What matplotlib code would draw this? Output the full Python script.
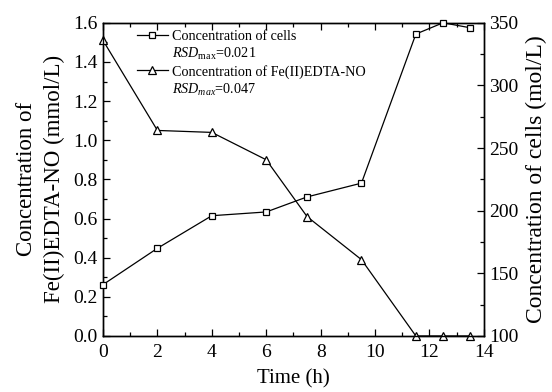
import matplotlib
matplotlib.use("Agg")
import matplotlib.pyplot as plt
from matplotlib.lines import Line2D

plt.rcParams['font.family'] = ['Liberation Serif', 'DejaVu Serif']
plt.rcParams['mathtext.fontset'] = 'custom'
plt.rcParams['mathtext.rm'] = 'Liberation Serif'
plt.rcParams['mathtext.it'] = 'Liberation Serif:italic'

# data
time_h = [0, 2, 4, 6, 7.5, 9.5, 11.5, 12.5, 13.5]
fe_edta_no = [1.51, 1.05, 1.04, 0.90, 0.61, 0.39, 0.0, 0.0, 0.0]      # mmol/L, left axis
cells = [141, 170, 196, 199, 211, 222, 341, 350, 346]               # mol/L, right axis

left_ticks = [0.0, 0.2, 0.4, 0.6, 0.8, 1.0, 1.2, 1.4, 1.6]
right_ticks = [100, 150, 200, 250, 300, 350]
x_ticks = [0, 2, 4, 6, 8, 10, 12, 14]

fig = plt.figure(figsize=(5.52, 3.92), dpi=100)
ax = fig.add_axes([0.1866, 0.1429, 0.690, 0.799])
ax2 = ax.twinx()

line_kw = dict(color='black', lw=0.9, markerfacecolor='white', markeredgecolor='black',
               markeredgewidth=0.9, clip_on=False)
ax.plot(time_h, fe_edta_no, marker='^', markersize=6, zorder=3, **line_kw)
ax2.plot(time_h, cells, marker='s', markersize=4.6, zorder=3, **line_kw)

ax.set_xlim(0, 14)
ax.set_ylim(0, 1.6)
ax2.set_ylim(100, 350)
ax.set_xticks(x_ticks)
ax.set_xticks([1, 3, 5, 7, 9, 11, 13], minor=True)
ax.set_yticks(left_ticks)
ax.set_yticklabels([f"{v:.1f}" for v in left_ticks])
ax.set_yticks([0.1 + 0.2 * i for i in range(8)], minor=True)
ax2.set_yticks(right_ticks)
ax2.set_yticks([125, 175, 225, 275, 325], minor=True)

for a in (ax, ax2):
    a.tick_params(which='both', direction='in', labelsize=14, width=0.9)
    a.tick_params(which='major', length=5)
    a.tick_params(which='minor', length=3)
    for s in a.spines.values():
        s.set_linewidth(1.0)
ax.tick_params(which='both', top=True)
ax.tick_params(axis='x', pad=6)
ax.tick_params(axis='y', pad=4)
ax2.tick_params(which='both', top=False, pad=4)

ax.set_xlabel('Time (h)', fontsize=15, labelpad=6)
ax.set_ylabel('Concentration of\nFe(II)EDTA-NO (mmol/L)', fontsize=16.5, labelpad=6, linespacing=1.4)
ax2.set_ylabel('Concentration of cells (mol/L)', fontsize=17, labelpad=5)

blank = Line2D([], [], linestyle='none')
handles = [Line2D([], [], marker='s', markersize=4, **line_kw), blank,
           Line2D([], [], marker='^', markersize=5.5, **line_kw), blank]
labels = ['Concentration of cells', r'$RSD_{\mathrm{max}}$=0.021',
          'Concentration of Fe(II)EDTA-NO', r'$RSD_{max}$=0.047']
leg = ax.legend(handles, labels, loc='upper left', bbox_to_anchor=(0.07, 1.0),
                frameon=False, fontsize=10.2, handlelength=2.2, handletextpad=0.3,
                labelspacing=0.2, borderaxespad=0.1)

fig.savefig('out.png', dpi=100)
